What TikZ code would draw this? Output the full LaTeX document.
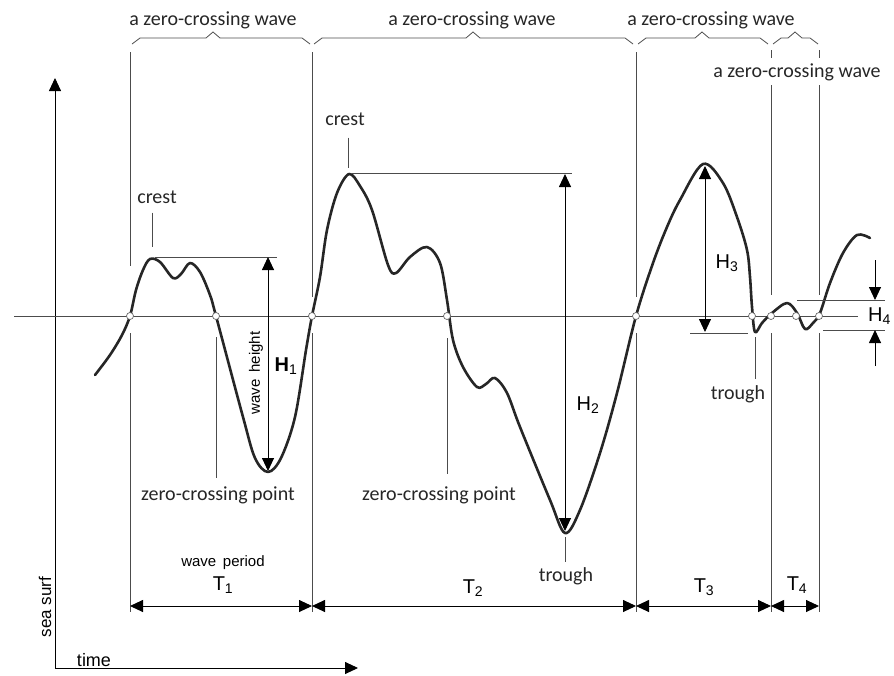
\documentclass[tikz,border=0pt]{standalone}
\usepackage{fontspec}
\setmainfont{Carlito}
\newfontfamily\arialfont{Liberation Sans}
\usetikzlibrary{arrows.meta, calc}
\tikzset{every node/.append style={inner sep=0pt}}
\newcommand{\zcbrace}[3]{\draw[guide] (#1,44) -- ++(8,-6) -- (#3-7,38) -- (#3,32) -- (#3+7,38) -- (#2-8,38) -- (#2,44);}

\begin{document}
\begin{tikzpicture}[x=1pt, y=-1pt, font=\fontsize{20}{24}\selectfont,
  guide/.style={black!70, line width=0.8pt},
  wave/.style={black!85, line width=2.6pt, line cap=round, line join=round},
  tip/.style={-{Triangle[length=13pt,width=12pt]}},
  dim/.style={line width=0.9pt, {Triangle[length=13pt,width=12pt]}-{Triangle[length=13pt,width=12pt]}},
  zc/.style={circle, draw=black!60, fill=white, line width=0.7pt, minimum size=7pt},
  lbl/.style={text=black!85},
  sym/.style={font=\arialfont\fontsize{20}{24}\selectfont}]
  \useasboundingbox (0,0) rectangle (894,675);

  \foreach \n/\x in {z1/130, z2/216, z3/312, z4/447, z5/636, z6/752, z7/771, z8/796, z9/819}
    \coordinate (\n) at (\x,316);
  \coordinate (cr1) at (152,259);
  \coordinate (cr2) at (348,174);
  \coordinate (tr1) at (565,533);
  \coordinate (tr2) at (755,333);
  \coordinate (tl) at (0,606);

  % axes
  \coordinate (o) at (55,668);
  \draw[line width=0.9pt, tip] (o) -- (55,78);
  \draw[line width=0.9pt, tip] (o) -- (358,668);
  \node[sym, font=\arialfont\fontsize{18}{20}\selectfont] (time) at (94,660) {time};
  \node[sym, font=\arialfont\fontsize{17}{20}\selectfont, rotate=90] (seasurf) at (45,607) {sea surf};

  \draw[guide] (14,316) -- (858,316);

  % braces
  \zcbrace{132}{310}{213}
  \zcbrace{314}{633}{473}
  \zcbrace{638}{768}{702}
  \zcbrace{773}{818}{795}
  \node[lbl] (w1) at (213,20) {a zero-crossing wave};
  \node[lbl] (w2) at (472,20) {a zero-crossing wave};
  \node[lbl] (w3) at (711,20) {a zero-crossing wave};
  \node[lbl] (w4) at (797,72) {a zero-crossing wave};

  \foreach \z/\b in {z1/266, z3/297, z5/297}
    \draw[guide] (\z |- 0,52) -- (\z |- 0,\b);
  \foreach \z in {z7, z9} {
    \draw[guide] (\z |- 0,50) -- (\z |- 0,58);
    \draw[guide] (\z |- 0,85) -- (\z |- 0,295);
  }
  \foreach \z in {z1, z3, z5, z7, z9}
    \draw[guide] (\z |- 0,333) -- (\z |- 0,612);

  % wave
  \draw[wave] plot[smooth, tension=0.55] coordinates {
    (95,375) (110,355) (122,335) (130,316) (136,290) (143,270) (150,259) (160,262)
    (173,278) (181,274) (190,263) (200,272) (210,295) (216,316) (243,417) (255,458)
    (268,472) (281,458) (295,417) (306,350) (312,316) (320,277) (327,230) (337,193)
    (349,174) (360,186) (372,210) (388,265) (396,273) (410,257) (427,247) (440,263)
    (447,300) (453,340) (463,367) (477,387) (486,384) (495,378) (507,393) (520,427)
    (550,500) (565,533) (580,510) (600,453) (617,393) (636,316) (653,263) (667,227)
    (680,200) (703,164) (723,183) (737,217) (747,250) (750,277) (752,307) (755,332)
    (762,323) (772,313) (787,303) (797,313) (805,329) (813,323) (820,313) (830,283)
    (843,253) (857,235) (870,238)};

  % heights
  \draw[guide] (155,257) -- (277,257);
  \draw[dim] (268,257) -- (268,471);
  \node[sym, font=\arialfont\fontsize{15}{17}\selectfont, rotate=90] (wh) at (256,373) {wave\, height};
  \node[sym, font=\arialfont\bfseries\fontsize{20}{24}\selectfont] (H1) at (286,366) {H\textsubscript{\mdseries 1}};

  \draw[guide] (352,173) -- (572,173);
  \draw[dim] (565,174) -- ($(tr1)+(0,-2)$);
  \draw[guide] ($(tr1)+(0,4)$) -- (565,562);
  \node[sym] (H2) at (588,405) {H\textsubscript{2}};

  \draw[guide] (690,333) -- (748,333);
  \draw[dim] (705,166) -- (705,332);
  \node[sym] (H3) at (727,263) {H\textsubscript{3}};

  \draw[guide] (797,300) -- (885,300);
  \draw[guide] (823,330) -- (885,330);
  \draw[line width=0.9pt, tip] (875,260) -- (875,300);
  \draw[line width=0.9pt, tip] (875,366) -- (875,330);
  \node[sym, anchor=west] (H4) at (868,316) {H\textsubscript{4}};

  % labels
  \node[lbl] (crest1) at (157,197) {crest};
  \draw[guide] ($(crest1.south -| cr1)+(0,9)$) -- ($(cr1)+(0,-12)$);
  \node[lbl] (crest2) at (345,119) {crest};
  \draw[guide] ($(crest2.south -| cr2)+(0,12)$) -- ($(cr2)+(0,-6)$);
  \node[lbl] (zcp1) at (218,495) {zero-crossing point};
  \draw[guide] ($(z2)+(0,21)$) -- ($(zcp1.north -| z2)+(0,-8)$);
  \node[lbl] (zcp2) at (439,495) {zero-crossing point};
  \draw[guide] ($(z4)+(0,22)$) -- ($(zcp2.north -| z4)+(0,-12)$);
  \node[lbl] (trough1) at (566,576) {trough};
  \node[lbl] (trough2) at (738,394) {trough};
  \draw[guide] ($(tr2)+(0,4)$) -- ($(trough2.north -| tr2)+(0,-6)$);

  % periods
  \draw[dim] (z1 |- tl) -- (z3 |- tl);
  \draw[dim] (z3 |- tl) -- (z5 |- tl);
  \draw[dim] (z5 |- tl) -- (z7 |- tl);
  \draw[dim] (z7 |- tl) -- (z9 |- tl);
  \node[sym, font=\arialfont\fontsize{15}{18}\selectfont] (wp) at (223,563) {wave\, period};
  \node[sym] (T1) at (223,585) {T\textsubscript{1}};
  \node[sym] (T2) at (473,588) {T\textsubscript{2}};
  \node[sym] (T3) at (704,587) {T\textsubscript{3}};
  \node[sym] (T4) at (797,585) {T\textsubscript{4}};

  \foreach \n in {z1, z2, z3, z4, z5, z6, z7, z8, z9}
    \node[zc] (c\n) at (\n) {};
\end{tikzpicture}
\end{document}
